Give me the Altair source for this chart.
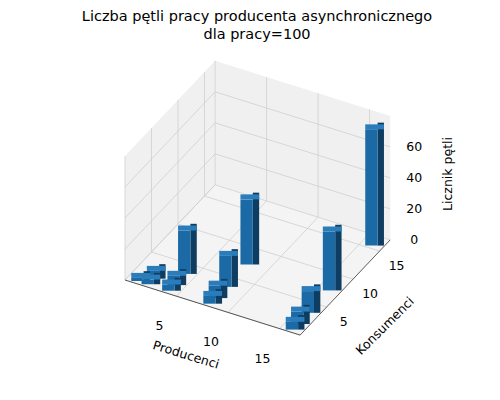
import altair as alt
import pandas as pd

# bar data: producers, consumers, loop count
producers = [1, 2, 2, 4, 4, 4, 8, 8, 8, 8, 16, 16, 16, 16, 16]
consumers = [1, 1, 2, 1, 2, 4, 1, 2, 4, 8, 1, 2, 4, 8, 16]
loops = [2, 3, 5, 4, 6, 28, 5, 8, 20, 42, 5, 8, 14, 38, 75]

p_ticks = [5, 10, 15]
c_ticks = [5, 10, 15]
z_ticks = [0, 20, 40, 60]
p_max, c_max, z_max = 17, 17, 80

# projection of (p, c, z) onto the page, as Vega expressions
def sx(p, c):
    return f"125 + ({p})*10.3 + ({c})*5.3"

def sy(p, c, z):
    return f"280 + ({p})*3.24 - ({c})*5.6 - ({z})*1.55"

X = alt.X("sx:Q", scale=alt.Scale(domain=[8, 492]), axis=None)
Y = alt.Y("sy:Q", scale=alt.Scale(domain=[392, 8]), axis=None)

# panes (left wall p=0, back wall c=max) as areas
pane_rows = []
for c in [0, c_max]:
    pane_rows.append({"pane": "left", "p": 0, "c": c})
for p in [0, p_max]:
    pane_rows.append({"pane": "back", "p": p, "c": c_max})
panes = alt.Chart(pd.DataFrame(pane_rows)).transform_calculate(
    sx=sx("datum.p", "datum.c"),
    sy=sy("datum.p", "datum.c", 0),
    sy2=sy("datum.p", "datum.c", z_max),
).mark_area(color="#ececec", opacity=0.8).encode(
    x=X, y=Y, y2="sy2:Q", detail="pane:N"
)

# floor as area between front/left edges and back/right edges
floor = alt.Chart(pd.DataFrame({"k": [0]})).transform_calculate(
    x0=sx(0, 0), y0=sy(0, 0, 0),
    x1=sx(0, c_max), y1=sy(0, c_max, 0),
    x2=sx(p_max, 0), y2=sy(p_max, 0, 0),
    x3=sx(p_max, c_max), y3=sy(p_max, c_max, 0),
).transform_calculate(
    pts="[[datum.x0, datum.y0, datum.y0],"
        "[datum.x1, datum.y1, datum.y0 + (datum.x1-datum.x0)*(datum.y2-datum.y0)/(datum.x2-datum.x0)],"
        "[datum.x2, datum.y1 + (datum.x2-datum.x1)*(datum.y3-datum.y1)/(datum.x3-datum.x1), datum.y2],"
        "[datum.x3, datum.y3, datum.y3]]"
).transform_flatten(["pts"]).transform_calculate(
    sx="datum.pts[0]", sy="datum.pts[1]", sy2="datum.pts[2]"
).mark_area(color="#f4f4f4").encode(x=X, y=Y, y2="sy2:Q")

# grid lines
grid_rows = []
g = 0
for p in [0] + p_ticks:
    for v in [(p, 0, 0), (p, c_max, 0), (p, c_max, z_max)]:
        grid_rows.append({"g": g, "p": v[0], "c": v[1], "z": v[2]})
    g += 1
for c in [0] + c_ticks:
    for v in [(p_max, c, 0), (0, c, 0), (0, c, z_max)]:
        grid_rows.append({"g": g, "p": v[0], "c": v[1], "z": v[2]})
    g += 1
for z in z_ticks:
    for v in [(0, 0, z), (0, c_max, z), (p_max, c_max, z)]:
        grid_rows.append({"g": g, "p": v[0], "c": v[1], "z": v[2]})
    g += 1
grid = alt.Chart(pd.DataFrame(grid_rows)).transform_calculate(
    sx=sx("datum.p", "datum.c"), sy=sy("datum.p", "datum.c", "datum.z")
).mark_line(color="#cfcfcf", strokeWidth=0.8).encode(
    x=X, y=Y, detail="g:N", order=alt.Order("z:Q")
)

# axis edges
edge_rows = [
    {"g": 0, "i": 0, "p": 0, "c": 0, "z": 0}, {"g": 0, "i": 1, "p": p_max, "c": 0, "z": 0},
    {"g": 1, "i": 0, "p": p_max, "c": 0, "z": 0}, {"g": 1, "i": 1, "p": p_max, "c": c_max, "z": 0},
]
edges = alt.Chart(pd.DataFrame(edge_rows)).transform_calculate(
    sx=sx("datum.p", "datum.c"), sy=sy("datum.p", "datum.c", "datum.z")
).mark_line(color="#333333", strokeWidth=0.8).encode(
    x=X, y=Y, detail="g:N", order="i:Q"
)

# bars, sorted back to front
bars_df = pd.DataFrame({"p": producers, "c": consumers, "v": loops})
bars_df = bars_df.sort_values(["c", "p"], ascending=[False, True]).reset_index(drop=True)
bars_df["idx"] = range(len(bars_df))
d = 0.6
base = alt.Chart(bars_df).transform_calculate(
    fx1=sx(f"datum.p-{d}", f"datum.c-{d}"),
    fx2=sx(f"datum.p+{d}", f"datum.c-{d}"),
    bx2=sx(f"datum.p+{d}", f"datum.c+{d}"),
    fy0=sy("datum.p", f"datum.c-{d}", 0),
    fyv=sy("datum.p", f"datum.c-{d}", "datum.v"),
    ty=sy("datum.p", f"datum.c+{d}", "datum.v"),
)
XS = alt.Scale(domain=[8, 492])
YS = alt.Scale(domain=[392, 8])
side = base.mark_rect(color="#0e3d61").encode(
    x=alt.X("fx2:Q", scale=XS, axis=None), x2="bx2:Q",
    y=alt.Y("ty:Q", scale=YS, axis=None), y2="fy0:Q",
)
front = base.mark_rect(color="#1b6aa5").encode(
    x=alt.X("fx1:Q", scale=XS, axis=None), x2="fx2:Q",
    y=alt.Y("fyv:Q", scale=YS, axis=None), y2="fy0:Q",
)
top = base.transform_calculate(
    ty2="datum.fyv - 5"
).mark_rect(color="#2a7cbb").encode(
    x=alt.X("fx1:Q", scale=XS, axis=None), x2="bx2:Q",
    y=alt.Y("ty2:Q", scale=YS, axis=None), y2="fyv:Q",
)
bar_layers = []
for i in range(len(bars_df)):
    f = alt.datum.idx == i
    bar_layers += [side.transform_filter(f), front.transform_filter(f), top.transform_filter(f)]

font = "DejaVu Sans"
# tick labels
p_lab = alt.Chart(pd.DataFrame({"t": p_ticks})).transform_calculate(
    sx=sx("datum.t", 0) + " - 17", sy=sy("datum.t", 0, 0) + " + 30"
).mark_text(font=font, fontSize=12.5).encode(x=X, y=Y, text="t:N")
c_lab = alt.Chart(pd.DataFrame({"t": c_ticks})).transform_calculate(
    sx=sx(p_max, "datum.t") + " + 17", sy=sy(p_max, "datum.t", 0) + " + 15"
).mark_text(font=font, fontSize=12.5).encode(x=X, y=Y, text="t:N")
z_lab = alt.Chart(pd.DataFrame({"t": z_ticks})).transform_calculate(
    sx=sx(p_max, c_max) + " + 24", sy=sy(p_max, c_max, "datum.t")
).mark_text(font=font, fontSize=12.5).encode(x=X, y=Y, text="t:N")

def label(text, x, y, angle=0, size=12.5):
    return alt.Chart(pd.DataFrame({"t": [text], "sx": [x], "sy": [y]})).mark_text(
        font=font, fontSize=size, angle=angle
    ).encode(x=X, y=Y, text="t:N")

labels = [
    label("Producenci", 186, 355, 17),
    label("Konsumenci", 385, 326, 315),
    label("Licznik pętli", 448, 174, 270),
    label("Liczba pętli pracy producenta asynchronicznego", 257, 17, 0, 14.5),
    label("dla pracy=100", 257, 35, 0, 14.5),
]

chart = alt.layer(
    panes, floor, grid, edges, *bar_layers, p_lab, c_lab, z_lab, *labels
).properties(
    width=484, height=384, padding=0, autosize="none", background="white"
).configure_view(stroke=None)

chart.save("out.html", embed_options={"renderer": "svg", "actions": False})
